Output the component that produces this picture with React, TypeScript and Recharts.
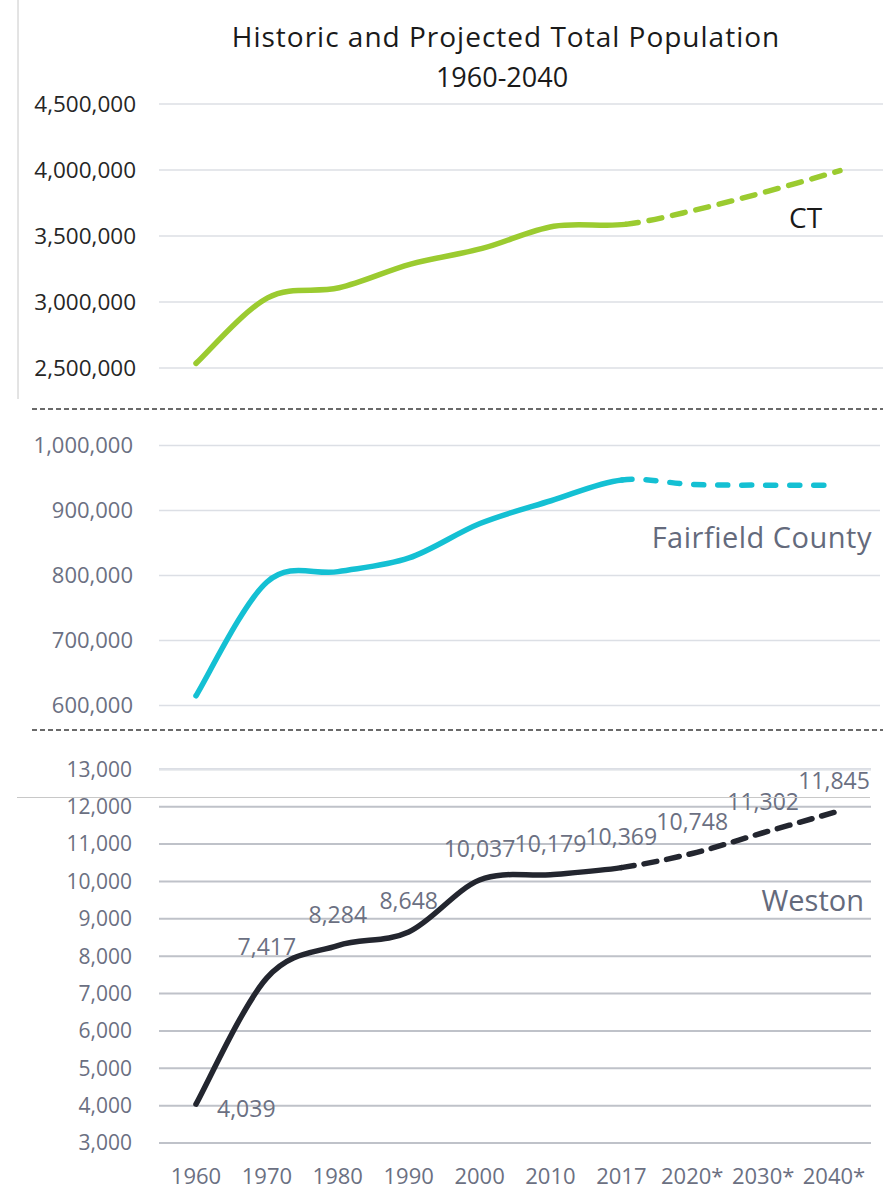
import React from 'react';
import { LineChart, Line, XAxis, YAxis, CartesianGrid, LabelList, ReferenceLine } from 'recharts';

const years = ['1960', '1970', '1980', '1990', '2000', '2010', '2017', '2020*', '2030*', '2040*'];
const ctValues = [2535234, 3031709, 3107576, 3287116, 3405565, 3574097, 3588184, 3700000, 3840000, 3995000];
const fairfieldValues = [615000, 790000, 806000, 827000, 880000, 915000, 947000, 940000, 939000, 939000];
const westonValues = [4039, 7417, 8284, 8648, 10037, 10179, 10369, 10748, 11302, 11845];

const ctTicks = [2500000, 3000000, 3500000, 4000000, 4500000];
const fairfieldTicks = [600000, 700000, 800000, 900000, 1000000];
const westonTicks = [3000, 4000, 5000, 6000, 7000, 8000, 9000, 10000, 11000, 12000, 13000];

const lastHistoricIndex = 6; // 2017

const ctData = years.map((year, i) => ({ year, hist: ctValues[i], proj: ctValues[i] }));
const fairfieldData = years.map((year, i) => ({ year, hist: fairfieldValues[i], proj: fairfieldValues[i] }));
const westonData = years.map((year, i) => ({ year, hist: westonValues[i], proj: westonValues[i] }));

const FONT = '"Open Sans", "Noto Sans", sans-serif';
const fmt = (v: number) => Number(v).toLocaleString('en-US');

// Excel-like smoothed line (Catmull-Rom), drawing only the segments between point indices [from, to]
const makeCurve = (from: number, to: number) => (context: any) => {
  let pts: number[][] = [];
  return {
    areaStart() {},
    areaEnd() {},
    lineStart() {
      pts = [];
    },
    point(x: number, y: number) {
      pts.push([+x, +y]);
    },
    lineEnd() {
      const n = pts.length;
      if (n < 2) return;
      const end = Math.min(to, n - 1);
      if (from >= end) return;
      context.moveTo(pts[from][0], pts[from][1]);
      for (let i = from; i < end; i++) {
        const p0 = pts[Math.max(i - 1, 0)];
        const p1 = pts[i];
        const p2 = pts[i + 1];
        const p3 = pts[Math.min(i + 2, n - 1)];
        context.bezierCurveTo(
          p1[0] + (p2[0] - p0[0]) / 6,
          p1[1] + (p2[1] - p0[1]) / 6,
          p2[0] - (p3[0] - p1[0]) / 6,
          p2[1] - (p3[1] - p1[1]) / 6,
          p2[0],
          p2[1]
        );
      }
    },
  };
};

const histCurve = makeCurve(0, lastHistoricIndex);
const projCurve = makeCurve(lastHistoricIndex, years.length - 1);

const renderWestonLabel = (props: any) => {
  const x = props.x ?? props.viewBox?.x;
  const y = props.y ?? props.viewBox?.y;
  const { value, index } = props;
  const first = index === 0;
  return (
    <text
      x={first ? x + 21 : x}
      y={first ? y + 4 : y - 32}
      textAnchor={first ? 'start' : 'middle'}
      dominantBaseline="central"
      fill="#6b7082"
      fontSize={23}
      fontFamily={FONT}
    >
      {fmt(value)}
    </text>
  );
};

export default function App() {
  return (
    <div style={{ position: 'absolute', left: 0, top: 0, width: 883, height: 1189, background: '#fff', overflow: 'hidden' }}>
      {/* CT panel */}
      <div style={{ position: 'absolute', left: 0, top: 0 }}>
        <LineChart width={883} height={400} data={ctData} margin={{ top: 104, right: 0, bottom: 32, left: 0 }}>
          <CartesianGrid vertical={false} stroke="#dcdfe5" strokeWidth={1.5} />
          <XAxis dataKey="year" scale="point" padding={{ left: 37, right: 43 }} hide />
          <YAxis
            width={159}
            domain={[ctTicks[0], ctTicks[ctTicks.length - 1]]}
            ticks={ctTicks}
            tickFormatter={fmt}
            axisLine={false}
            tickLine={false}
            tickSize={0}
            tickMargin={23}
            tick={{ fill: '#262626', fontSize: 22.5, fontFamily: FONT }}
          />
          <Line dataKey="hist" type={histCurve as any} stroke="#9bcb30" strokeWidth={5.5} strokeLinecap="round" dot={false} isAnimationActive={false} />
          <Line dataKey="proj" type={projCurve as any} stroke="#9bcb30" strokeWidth={5.5} strokeLinecap="round" strokeDasharray="13 11" dot={false} isAnimationActive={false} />
        </LineChart>
      </div>

      {/* Fairfield County panel */}
      <div style={{ position: 'absolute', left: 0, top: 410 }}>
        <LineChart width={880} height={310} data={fairfieldData} margin={{ top: 35.5, right: 0, bottom: 14.5, left: 0 }}>
          <CartesianGrid vertical={false} stroke="#dcdfe5" strokeWidth={1.5} />
          <XAxis dataKey="year" scale="point" padding={{ left: 37, right: 45 }} hide />
          <YAxis
            width={159}
            domain={[fairfieldTicks[0], fairfieldTicks[fairfieldTicks.length - 1]]}
            ticks={fairfieldTicks}
            tickFormatter={fmt}
            axisLine={false}
            tickLine={false}
            tickSize={0}
            tickMargin={26}
            tick={{ fill: '#6b7082', fontSize: 22, fontFamily: FONT }}
          />
          <Line dataKey="hist" type={histCurve as any} stroke="#14c0d3" strokeWidth={5.5} strokeLinecap="round" dot={false} isAnimationActive={false} />
          <Line dataKey="proj" type={projCurve as any} stroke="#14c0d3" strokeWidth={5.5} strokeLinecap="round" strokeDasharray="10 14" dot={false} isAnimationActive={false} />
        </LineChart>
      </div>

      {/* Weston panel */}
      <div style={{ position: 'absolute', left: 0, top: 740 }}>
        <LineChart width={871} height={449} data={westonData} margin={{ top: 29.3, right: 0, bottom: 0, left: 0 }}>
          <CartesianGrid vertical={false} stroke="#bfc2c9" strokeWidth={2} />
          <ReferenceLine y={westonTicks[westonTicks.length - 1]} stroke="#dfe2e8" strokeWidth={2} />
          <XAxis
            dataKey="year"
            scale="point"
            padding={{ left: 37, right: 37 }}
            height={46}
            axisLine={false}
            tickLine={false}
            tickSize={0}
            tickMargin={25}
            interval={0}
            tick={{ fill: '#6b7082', fontSize: 22, fontFamily: FONT }}
          />
          <YAxis
            width={159}
            domain={[westonTicks[0], westonTicks[westonTicks.length - 1]]}
            ticks={westonTicks}
            tickFormatter={fmt}
            axisLine={false}
            tickLine={false}
            tickSize={0}
            tickMargin={27}
            tick={{ fill: '#6b7082', fontSize: 21, fontFamily: FONT }}
          />
          <Line dataKey="hist" type={histCurve as any} stroke="#23262f" strokeWidth={5.5} strokeLinecap="round" dot={false} isAnimationActive={false}>
            <LabelList dataKey="hist" content={renderWestonLabel} />
          </Line>
          <Line dataKey="proj" type={projCurve as any} stroke="#23262f" strokeWidth={5.5} strokeLinecap="round" strokeDasharray="13 10" dot={false} isAnimationActive={false} />
        </LineChart>
      </div>

      {/* Overlay: title, panel labels, separators */}
      <svg width={883} height={1189} style={{ position: 'absolute', left: 0, top: 0, pointerEvents: 'none' }}>
        <line x1={18} y1={0} x2={18} y2={399} stroke="#c8c8c8" strokeWidth={1} />
        <line x1={17} y1={797.5} x2={870} y2={797.5} stroke="#c8c8c8" strokeWidth={1} />
        <line x1={32} y1={409} x2={883} y2={409} stroke="#3a3a3a" strokeWidth={1.5} strokeDasharray="5 3" />
        <line x1={32} y1={730} x2={883} y2={730} stroke="#3a3a3a" strokeWidth={1.5} strokeDasharray="5 3" />
        <text x={506} y={47} textAnchor="middle" fontFamily={FONT} fontSize={28} letterSpacing={1} fill="#1a1a1a">
          Historic and Projected Total Population
        </text>
        <text x={502} y={87} textAnchor="middle" fontFamily={FONT} fontSize={27} fill="#1a1a1a">
          1960-2040
        </text>
        <text x={789} y={228} fontFamily={FONT} fontSize={28} fill="#1a1a1a">
          CT
        </text>
        <text x={872} y={548} textAnchor="end" fontFamily={FONT} fontSize={29} letterSpacing={0.5} fill="#646a7c">
          Fairfield County
        </text>
        <text x={864} y={911} textAnchor="end" fontFamily={FONT} fontSize={29} fill="#646a7c">
          Weston
        </text>
      </svg>
    </div>
  );
}
